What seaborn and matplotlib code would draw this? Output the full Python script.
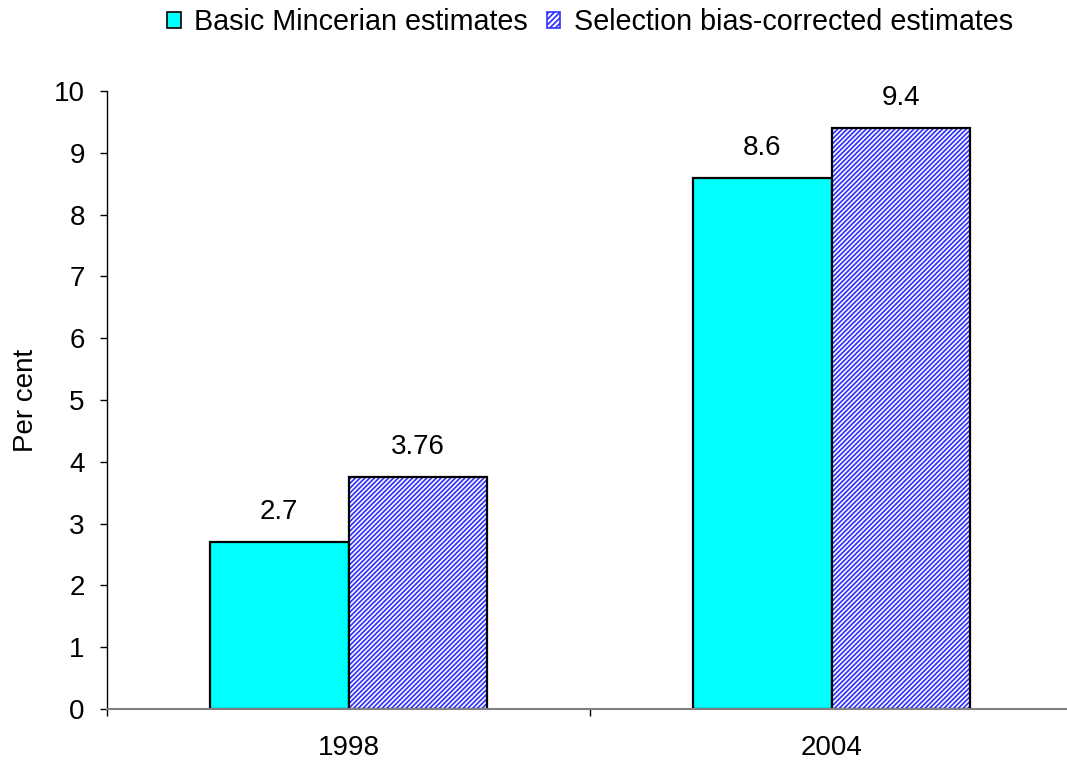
import matplotlib
matplotlib.use("Agg")
import matplotlib.pyplot as plt
from matplotlib.patches import Rectangle
import seaborn as sns
import pandas as pd

years = ["1998", "2004"]
series = ["Basic Mincerian estimates", "Selection bias-corrected estimates"]
basic = [2.7, 8.6]
corrected = [3.76, 9.4]
value_labels_basic = ["2.7", "8.6"]
value_labels_corr = ["3.76", "9.4"]
yticks = list(range(0, 11))

sns.set_theme(style="white")
plt.rcParams['font.family'] = ['Liberation Sans', 'DejaVu Sans']
plt.rcParams['hatch.linewidth'] = 1.25
plt.rcParams['text.color'] = 'black'
plt.rcParams['axes.labelcolor'] = 'black'
plt.rcParams['xtick.color'] = 'black'
plt.rcParams['ytick.color'] = 'black'

FS = 20

df = pd.DataFrame({
    "year": years * 2,
    "series": [series[0]] * 2 + [series[1]] * 2,
    "value": basic + corrected,
})

fig = plt.figure(figsize=(10.67, 7.67), dpi=100)
ax = fig.add_axes([107/1067, 58/767, 966/1067, 618/767])

cyan = "#00FFFF"
hatch_blue = "#3333FF"

sns.barplot(data=df, x="year", y="value", hue="series", hue_order=series,
            palette=[cyan, "white"], width=0.575, gap=0, dodge=True,
            edgecolor="black", linewidth=1.6, legend=False, ax=ax,
            saturation=1)

# style hatched bars: blue hatch + black outline overlay
hatched = ax.containers[1]
for p in hatched:
    p.set_facecolor("white")
    p.set_edgecolor(hatch_blue)
    p.set_linewidth(0)
    p.set_hatch("///////")
    ax.add_patch(Rectangle(p.get_xy(), p.get_width(), p.get_height(),
                           fill=False, edgecolor="black", linewidth=1.6, zorder=p.get_zorder() + 0.1))

ax.bar_label(ax.containers[0], labels=value_labels_basic, padding=12, fontsize=FS, color='black')
ax.bar_label(ax.containers[1], labels=value_labels_corr, padding=12, fontsize=FS, color='black')

ax.set_ylim(0, 10)
ax.set_xlim(-0.5, 1.5)
ax.set_yticks(yticks)
ax.set_yticklabels([str(t) for t in yticks], fontsize=FS)
ax.tick_params(axis='y', which='major', direction='out', length=5, width=1, color='black',
               pad=11, left=True, labelcolor='black')
ax.set_xticks([0, 1])
ax.set_xticklabels(years, fontsize=FS)
ax.set_xticks([-0.5, 0.5, 1.5], minor=True)
ax.tick_params(axis='x', which='major', length=0, pad=19, bottom=True, labelcolor='black')
ax.tick_params(axis='x', which='minor', direction='out', length=5, width=1, color='black', bottom=True)

ax.set_xlabel("")
ax.set_ylabel("Per cent", fontsize=FS, color='black')
ax.yaxis.set_label_coords(-(107 - 39) / 966, 0.5)

for s in ["top", "right"]:
    ax.spines[s].set_visible(False)
ax.spines["left"].set_color("black")
ax.spines["left"].set_linewidth(1)
ax.spines["bottom"].set_color("#808080")
ax.spines["bottom"].set_linewidth(1.5)
ax.grid(False)

handles = [
    Rectangle((0, 0), 1, 1, facecolor=cyan, edgecolor="black", linewidth=1.2),
    Rectangle((0, 0), 1, 1, facecolor="white", edgecolor=hatch_blue, hatch="//////", linewidth=1.2),
]
leg = fig.legend(handles, series, loc="center", bbox_to_anchor=(590/1067, 1 - 22/767),
                 ncol=2, frameon=False, fontsize=20.7, handlelength=0.47, handleheight=0.47,
                 handletextpad=0.47, columnspacing=0.65, borderpad=0.1)

fig.savefig("out.png", dpi=100)
